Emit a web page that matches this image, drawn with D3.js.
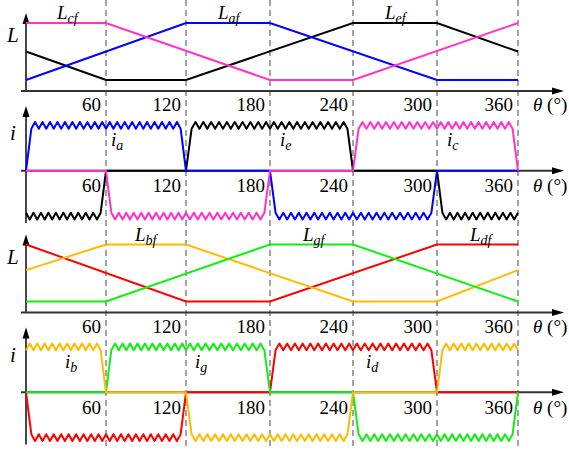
<!DOCTYPE html>
<html>
<head>
<meta charset="utf-8">
<script src="https://cdn.jsdelivr.net/npm/d3@7"></script>
<style>
  body { margin: 0; background: #fff; }
  text { font-family: "Liberation Serif", "Times New Roman", serif; fill: #000; }
</style>
</head>
<body>
<div id="chart"></div>
<script>
var thetaTicks = [60, 120, 180, 240, 300, 360];

// inductance profiles: [theta, level], 0 = Lmin, 1 = Lmax
var Laf = [[0, 0], [120, 1], [180, 1], [300, 0], [360, 0]];
var Lef = [[0, 0.5], [60, 0], [120, 0], [240, 1], [300, 1], [360, 0.5]];
var Lcf = [[0, 1], [60, 1], [180, 0], [240, 0], [360, 1]];
var Lbf = [[0, 0.55], [60, 1], [120, 1], [240, 0], [300, 0], [360, 0.55]];
var Lgf = [[0, 0], [60, 0], [180, 1], [240, 1], [360, 0]];
var Ldf = [[0, 1], [120, 0], [180, 0], [300, 1], [360, 1]];

// phase current conduction intervals: [start, end, sign]
var ia = [[0, 120, 1], [180, 300, -1]];
var ie = [[-60, 60, -1], [120, 240, 1], [300, 420, -1]];
var ic = [[60, 180, -1], [240, 360, 1]];
var ib = [[-60, 60, 1], [120, 240, -1], [300, 420, 1]];
var ig = [[60, 180, 1], [240, 360, -1]];
var id = [[0, 120, -1], [180, 300, 1]];

// hysteresis chopping band (fraction of peak) and half period in degrees
var chopBand = [0.86, 1];
var chopHalf = 2.8;
var ramp = 4;

var W = 569, H = 450;
var BLUE = '#0000ff', PINK = '#ff33cc', BLACK = '#000000',
    RED = '#ff0000', GREEN = '#11ee11', YELLOW = '#ffbb00';

var svg = d3.select('#chart').append('svg')
    .attr('width', W)
    .attr('height', H);

var x = d3.scaleLinear()
    .domain([0, 60, 120, 180, 240, 300, 360])
    .range([26, 106, 186, 270, 353, 437, 518]);

function chopped(intervals) {
  var pts = [];
  intervals.forEach(function(iv) {
    var s = iv[0], e = iv[1], sg = iv[2];
    var a = Math.max(s, 0), b = Math.min(e, 360), k = 0, t;
    if (s >= 0) { pts.push([s, 0]); a = s + ramp; }
    if (e <= 360) { b = e - ramp; }
    for (t = a; t < b - 0.5; t += chopHalf, k++) {
      pts.push([t, sg * chopBand[k % 2]]);
    }
    pts.push([b, sg * chopBand[k % 2]]);
    if (e <= 360) { pts.push([e, 0]); }
  });
  if (pts[0][0] > 0) { pts.unshift([0, 0]); }
  if (pts[pts.length - 1][0] < 360) { pts.push([360, 0]); }
  return pts;
}

// dashed guides over the whole figure
svg.append('g').selectAll('line').data(thetaTicks).enter()
    .append('line')
    .attr('x1', function(d) { return x(d); })
    .attr('x2', function(d) { return x(d); })
    .attr('y1', 0)
    .attr('y2', H)
    .attr('stroke', '#666')
    .attr('stroke-width', 1.2)
    .attr('stroke-dasharray', '6,4');

function arrowUp(g, cx, tip) {
  g.append('path')
      .attr('d', 'M' + cx + ',' + tip + 'L' + (cx - 3.5) + ',' + (tip + 11) + 'L' + (cx + 3.5) + ',' + (tip + 11) + 'Z')
      .attr('fill', '#000');
}

function arrowRight(g, tipX, cy) {
  g.append('path')
      .attr('d', 'M' + tipX + ',' + cy + 'L' + (tipX - 12) + ',' + (cy - 3.5) + 'L' + (tipX - 12) + ',' + (cy + 3.5) + 'Z')
      .attr('fill', '#000');
}

function thetaAxis(g, y0, base) {
  g.append('line')
      .attr('x1', 21).attr('x2', 555)
      .attr('y1', y0).attr('y2', y0)
      .attr('stroke', '#333').attr('stroke-width', 1.8);
  arrowRight(g, 564, y0);
  g.append('g').selectAll('text').data(thetaTicks).enter()
      .append('text')
      .attr('x', function(d) { return x(d) - 5; })
      .attr('y', base)
      .attr('text-anchor', 'end')
      .attr('font-size', 19)
      .text(function(d) { return d; });
  var t = g.append('text').attr('x', 533).attr('y', base).attr('font-size', 19);
  t.append('tspan').attr('font-style', 'italic').text('\u03b8');
  t.append('tspan').text(' (\u00b0)');
}

function subLabel(g, main, sub, px, py) {
  var t = g.append('text').attr('x', px).attr('y', py)
      .attr('font-style', 'italic').attr('font-size', 19);
  t.append('tspan').text(main);
  t.append('tspan').attr('font-size', 14).attr('dy', 4).text(sub);
}

function drawPair(dy, Lseries, Ilabels, Iseries, IlabelPos) {
  var g = svg.append('g').attr('transform', 'translate(0,' + dy + ')');

  // inductance panel
  var yL = d3.scaleLinear().domain([0, 1]).range([80, 23]);
  var lineL = d3.line()
      .x(function(d) { return x(d[0]); })
      .y(function(d) { return yL(d[1]); });

  g.append('line')
      .attr('x1', 26).attr('x2', 26).attr('y1', 91).attr('y2', 22)
      .attr('stroke', '#333').attr('stroke-width', 1.8);
  arrowUp(g, 26, 13);
  thetaAxis(g, 91, 111);

  g.selectAll('path.L').data(Lseries).enter()
      .append('path')
      .attr('class', 'L')
      .attr('d', function(d) { return lineL(d.data); })
      .attr('fill', 'none')
      .attr('stroke', function(d) { return d.color; })
      .attr('stroke-width', 2);

  g.append('text').attr('x', 7).attr('y', 42)
      .attr('font-style', 'italic').attr('font-size', 21).text('L');
  Ilabels.forEach(function(l) { subLabel(g, 'L', l[0], l[1], 19); });

  // current panel
  var yI = d3.scaleLinear().domain([-1, 1]).range([219.5, 122]);
  var lineI = d3.line()
      .x(function(d) { return x(d[0]); })
      .y(function(d) { return yI(d[1]); });

  g.append('line')
      .attr('x1', 26).attr('x2', 26).attr('y1', 223).attr('y2', 115)
      .attr('stroke', '#333').attr('stroke-width', 1.8);
  arrowUp(g, 26, 106);
  thetaAxis(g, yI(0), 192);

  g.selectAll('path.I').data(Iseries).enter()
      .append('path')
      .attr('class', 'I')
      .attr('d', function(d) { return lineI(chopped(d.data)); })
      .attr('fill', 'none')
      .attr('stroke', function(d) { return d.color; })
      .attr('stroke-width', 2)
      .attr('stroke-linejoin', 'round');

  g.append('text').attr('x', 10).attr('y', 140)
      .attr('font-style', 'italic').attr('font-size', 21).text('i');
  IlabelPos.forEach(function(l) { subLabel(g, 'i', l[0], l[1], 146); });
}

drawPair(0,
  [{data: Lef, color: BLACK}, {data: Laf, color: BLUE}, {data: Lcf, color: PINK}],
  [['cf', 57], ['af', 218], ['ef', 385]],
  [{data: ie, color: BLACK}, {data: ia, color: BLUE}, {data: ic, color: PINK}],
  [['a', 111], ['e', 280], ['c', 447]]);

drawPair(221.5,
  [{data: Ldf, color: RED}, {data: Lbf, color: YELLOW}, {data: Lgf, color: GREEN}],
  [['bf', 135], ['gf', 303], ['df', 470]],
  [{data: id, color: RED}, {data: ig, color: GREEN}, {data: ib, color: YELLOW}],
  [['b', 65], ['g', 195], ['d', 366]]);
</script>
</body>
</html>
